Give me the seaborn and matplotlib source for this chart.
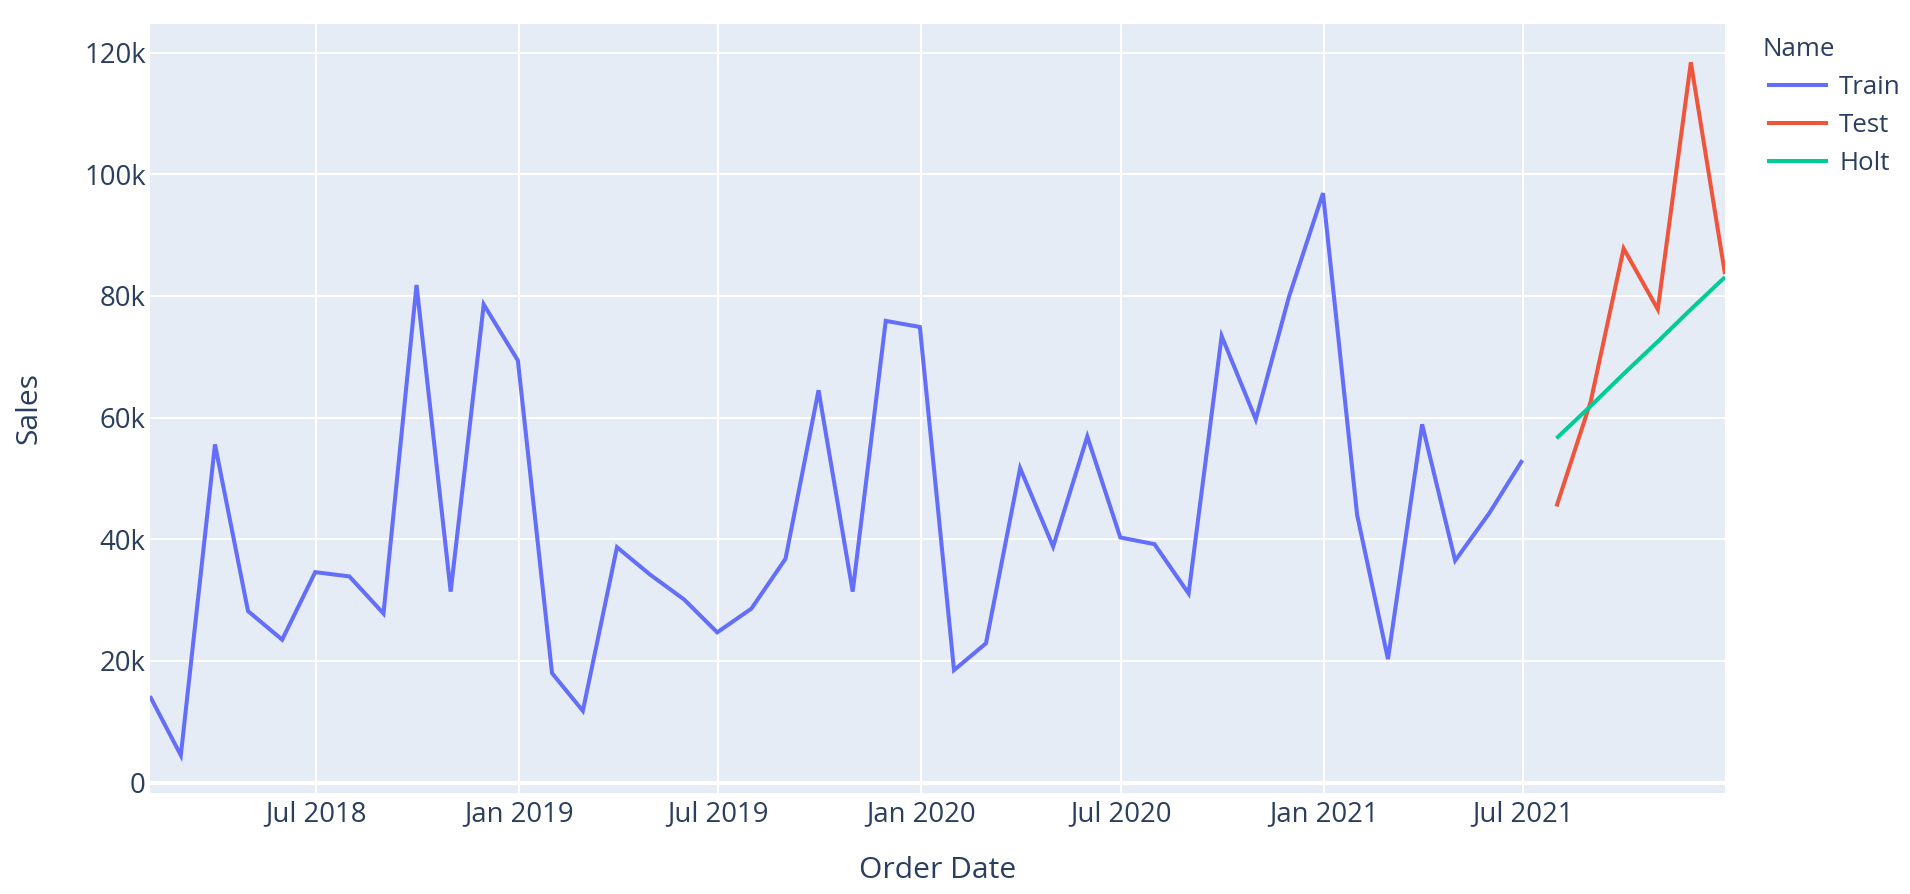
import matplotlib
matplotlib.use("Agg")
import matplotlib.pyplot as plt
import matplotlib.dates as mdates
from matplotlib.ticker import FuncFormatter
import numpy as np
import pandas as pd
import seaborn as sns

# ---------------- data ----------------
train_dates = pd.date_range("2018-01-31", "2021-06-30", freq="ME")
train_sales = [14200, 4500, 55600, 28200, 23500, 34600, 33900, 27800, 81800, 31400, 78600, 69400,
               18000, 11800, 38700, 34200, 30100, 24700, 28600, 36800, 64500, 31400, 75900, 74900,
               18500, 22900, 51700, 38800, 56900, 40300, 39200, 31100, 73400, 59700, 79800, 96900,
               44000, 20300, 58900, 36500, 44300, 53000]
test_dates = pd.date_range("2021-07-31", "2021-12-31", freq="ME")
test_sales = [45400, 62600, 87800, 77800, 118400, 83600]
holt_sales = [56600, 61900, 67200, 72500, 77800, 83100]

names = ["Train", "Test", "Holt"]
colors = ["#636EFA", "#EF553B", "#00CC96"]
y_ticks = [0, 20000, 40000, 60000, 80000, 100000, 120000]

df = pd.concat([
    pd.DataFrame({"Order Date": train_dates, "Sales": train_sales, "Name": "Train"}),
    pd.DataFrame({"Order Date": test_dates, "Sales": test_sales, "Name": "Test"}),
    pd.DataFrame({"Order Date": test_dates, "Sales": holt_sales, "Name": "Holt"}),
], ignore_index=True)

# ---------------- style ----------------
sns.set_theme(style="darkgrid")
plt.rcParams["font.family"] = ["Open Sans", "DejaVu Sans"]
txt = "#2a3f5f"

W, H = 1910, 894
fig = plt.figure(figsize=(W / 100, H / 100), dpi=100)
ax = fig.add_axes([150 / W, (H - 793) / H, (1725 - 150) / W, (793 - 24) / H])
ax.set_facecolor("#E5ECF6")

sns.lineplot(data=df, x="Order Date", y="Sales", hue="Name", hue_order=names,
             palette=dict(zip(names, colors)), linewidth=2.9, ax=ax, legend=True,
             estimator=None)

for ln in ax.get_lines():
    ln.set_solid_joinstyle("miter")
    ln.set_solid_capstyle("butt")

ax.set_xlim(train_dates[0], test_dates[-1])
ax.set_ylim(-1700, 124700)
ax.set_yticks(y_ticks)
ax.yaxis.set_major_formatter(FuncFormatter(lambda v, p: "0" if v == 0 else f"{int(v/1000)}k"))
ax.xaxis.set_major_locator(mdates.MonthLocator(bymonth=[1, 7]))
ax.xaxis.set_major_formatter(mdates.DateFormatter("%b %Y"))

ax.grid(True, color="white", linewidth=1.44)
ax.set_axisbelow(True)
ax.axhline(0, color="white", linewidth=2.9, zorder=1.5)
for s in ax.spines.values():
    s.set_visible(False)

ax.tick_params(axis="both", length=0, labelsize=19.8, colors=txt)
ax.tick_params(axis="x", pad=5)
ax.tick_params(axis="y", pad=3)

ax.set_xlabel("Order Date", fontsize=21.6, color=txt, labelpad=20)
ax.set_ylabel("Sales", fontsize=21.6, color=txt, labelpad=29)

handles, labels = ax.get_legend_handles_labels()
leg = ax.legend(handles, labels, loc="upper left",
                bbox_to_anchor=(1767 / W, 1 - 75 / H), bbox_transform=fig.transFigure,
                frameon=False, fontsize=18.6, borderpad=0,
                borderaxespad=0, handlelength=2.37, handletextpad=0.42,
                labelspacing=0.5)
for t in leg.get_texts():
    t.set_color(txt)
for lh in leg.get_lines():
    lh.set_linewidth(2.9)
fig.text(1762 / W, 1 - 50 / H, "Name", fontsize=18.6, color=txt,
         ha="left", va="center")

fig.savefig("out.png", dpi=100, facecolor="white")
